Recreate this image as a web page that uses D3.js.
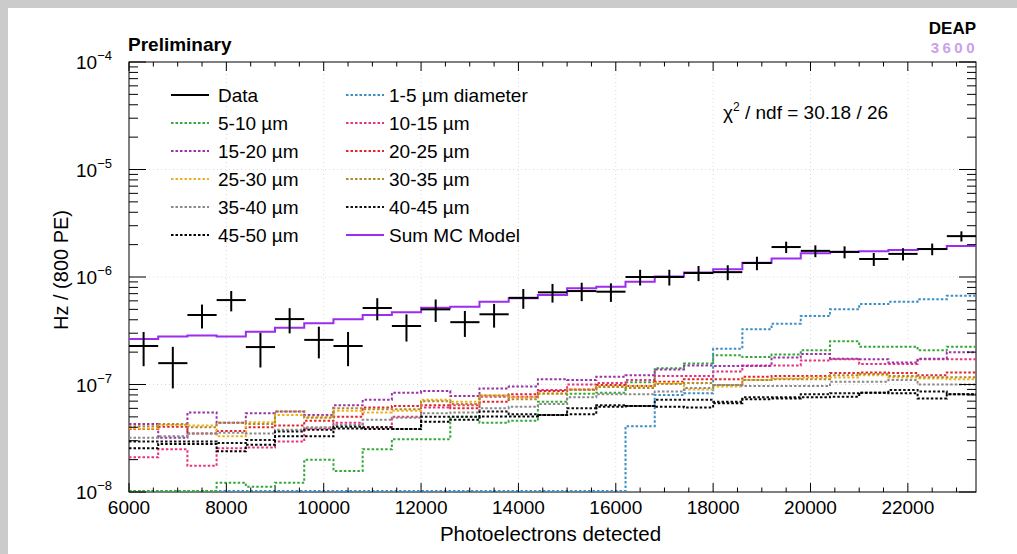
<!DOCTYPE html>
<html><head><meta charset="utf-8">
<script src="https://cdn.jsdelivr.net/npm/d3@7"></script>
<style>
body{margin:0;background:#fff}
svg{display:block}
text{font-family:"Liberation Sans",Arial,Helvetica,sans-serif;fill:#000}
</style>
</head><body>
<svg id="c" width="1017" height="554"></svg>
<script>
// ---------- data ----------
const binLow = [6000,6600,7200,7800,8400,9000,9600,10200,10800,11400,12000,12600,13200,13800,14400,15000,15600,16200,16800,17400,18000,18600,19200,19800,20400,21000,21600,22200,22800];
const xMax = 23400;
const xTickValues = [6000,8000,10000,12000,14000,16000,18000,20000,22000];
const yTickValues = [1e-8,1e-7,1e-6,1e-5,1e-4];
const yTickExponents = ["−8","−7","−6","−5","−4"];

const dataRate = [2.28e-7,1.58e-7,4.43e-7,6.1e-7,2.23e-7,4.06e-7,2.6e-7,2.28e-7,5.15e-7,3.5e-7,5.0e-7,3.8e-7,4.5e-7,6.4e-7,7.2e-7,7.4e-7,7.3e-7,1.0e-6,1.0e-6,1.09e-6,1.11e-6,1.35e-6,1.9e-6,1.75e-6,1.71e-6,1.47e-6,1.64e-6,1.82e-6,2.4e-6];
const dataErr = [8.0e-8,6.6e-8,1.11e-7,1.31e-7,7.9e-8,1.07e-7,8.5e-8,8.0e-8,1.2e-7,9.9e-8,1.18e-7,1.03e-7,1.12e-7,1.34e-7,1.42e-7,1.44e-7,1.43e-7,1.67e-7,1.67e-7,1.75e-7,1.76e-7,1.94e-7,2.31e-7,2.21e-7,2.19e-7,2.03e-7,2.14e-7,2.26e-7,2.59e-7];
const sumMC = [2.65e-7,2.79e-7,2.85e-7,2.79e-7,3.10e-7,3.37e-7,3.71e-7,4.04e-7,4.43e-7,4.70e-7,5.18e-7,5.29e-7,5.89e-7,6.33e-7,6.80e-7,7.85e-7,8.13e-7,9.04e-7,1.01e-6,1.10e-6,1.18e-6,1.36e-6,1.49e-6,1.66e-6,1.72e-6,1.74e-6,1.78e-6,1.82e-6,1.94e-6];

const mc1to5   = [0,0,0,0,0,0,0,0,0,0,0,0,0,0,0,0,0,4.1e-8,8.0e-8,8.3e-8,2.15e-7,3.27e-7,3.68e-7,4.33e-7,5.0e-7,5.6e-7,5.9e-7,6.2e-7,6.7e-7];
const mc5to10  = [0,0,0,1.22e-8,1.12e-8,1.22e-8,2.0e-8,1.57e-8,2.5e-8,3.1e-8,3.1e-8,5.0e-8,4.4e-8,4.6e-8,6.9e-8,8.2e-8,8.4e-8,1.05e-7,1.42e-7,1.57e-7,1.87e-7,1.8e-7,1.9e-7,2.08e-7,2.52e-7,2.25e-7,2.25e-7,2.08e-7,2.25e-7];
const mc10to15 = [2.1e-8,2.5e-8,1.75e-8,2.55e-8,2.6e-8,2.95e-8,3.9e-8,4.4e-8,4.0e-8,5.0e-8,6.1e-8,6.4e-8,7.7e-8,7.7e-8,8.9e-8,1.0e-7,1.03e-7,1.1e-7,1.2e-7,1.2e-7,1.32e-7,1.5e-7,1.5e-7,1.67e-7,1.72e-7,1.55e-7,1.55e-7,1.72e-7,1.72e-7];
const mc15to20 = [4.3e-8,3.2e-8,5.5e-8,4.4e-8,5.4e-8,5.6e-8,5.2e-8,6.4e-8,7.2e-8,8.4e-8,8.7e-8,7.8e-8,9.2e-8,9.6e-8,1.12e-7,1.1e-7,1.18e-7,1.22e-7,1.38e-7,1.5e-7,1.49e-7,1.49e-7,1.78e-7,1.92e-7,1.74e-7,1.72e-7,1.6e-7,1.74e-7,2.0e-7];
const mc20to25 = [3.85e-8,4.05e-8,3.5e-8,3.7e-8,4.0e-8,4.15e-8,4.6e-8,5.0e-8,6.1e-8,6.3e-8,6.4e-8,6.0e-8,6.9e-8,8.1e-8,8.7e-8,9.0e-8,9.9e-8,9.7e-8,1.06e-7,1.12e-7,1.12e-7,1.18e-7,1.2e-7,1.2e-7,1.28e-7,1.29e-7,1.28e-7,1.22e-7,1.29e-7];
const mc25to30 = [3.9e-8,4.2e-8,4.15e-8,3.3e-8,4.45e-8,5.2e-8,5.0e-8,5.7e-8,5.5e-8,5.7e-8,7.2e-8,6.9e-8,7.9e-8,7.6e-8,8.3e-8,9.0e-8,9.7e-8,9.7e-8,1.03e-7,9.0e-8,9.6e-8,1.1e-7,1.14e-7,1.16e-7,1.16e-7,1.22e-7,1.16e-7,1.14e-7,1.12e-7];
const mc30to35 = [4.1e-8,4.3e-8,4.0e-8,4.4e-8,4.3e-8,5.6e-8,4.9e-8,6.0e-8,5.9e-8,5.9e-8,7.0e-8,6.6e-8,7.9e-8,7.3e-8,8.2e-8,8.9e-8,9.5e-8,9.3e-8,1.01e-7,1.03e-7,9.9e-8,1.1e-7,1.12e-7,1.12e-7,1.22e-7,1.25e-7,1.2e-7,1.17e-7,1.17e-7];
const mc35to40 = [3.2e-8,3.3e-8,3.5e-8,3.55e-8,3.5e-8,3.8e-8,4.0e-8,4.2e-8,4.7e-8,4.9e-8,5.4e-8,5.5e-8,6.0e-8,6.2e-8,6.6e-8,7.6e-8,8.1e-8,8.1e-8,8.6e-8,9.3e-8,9.9e-8,9.7e-8,9.7e-8,9.7e-8,1.06e-7,1.06e-7,1.1e-7,1.0e-7,1.0e-7];
const mc40to45 = [2.95e-8,2.95e-8,2.95e-8,2.85e-8,3.05e-8,3.65e-8,3.8e-8,4.05e-8,4.0e-8,3.85e-8,5.0e-8,5.0e-8,5.6e-8,5.3e-8,5.2e-8,6.0e-8,6.4e-8,6.3e-8,7.2e-8,7.2e-8,6.9e-8,7.6e-8,7.6e-8,8.1e-8,8.3e-8,8.4e-8,8.9e-8,8.6e-8,8.1e-8];
const mc45to50 = [2.55e-8,2.8e-8,2.8e-8,2.4e-8,2.75e-8,3.3e-8,3.3e-8,3.9e-8,3.85e-8,3.85e-8,4.5e-8,4.7e-8,5.05e-8,5.05e-8,5.2e-8,5.3e-8,6.2e-8,6.3e-8,6.2e-8,6.1e-8,6.7e-8,7.3e-8,7.4e-8,7.6e-8,7.7e-8,8.4e-8,8.3e-8,7.4e-8,8.1e-8];

const seriesNames = ["1-5 µm diameter","5-10 µm","10-15 µm","15-20 µm","20-25 µm","25-30 µm","30-35 µm","35-40 µm","40-45 µm","45-50 µm"];
const seriesValues = [mc1to5,mc5to10,mc10to15,mc15to20,mc20to25,mc25to30,mc30to35,mc35to40,mc40to45,mc45to50];
const seriesColors = ["#3b8fc6","#35a83a","#e8317f","#9a32a8","#e3262b","#f0b020","#b08a2a","#8a8a8a","#111111","#000000"];
const sumColor = "#9b2cf2";

// ---------- layout ----------
const W = 1017, H = 554;
const L = 129, R = 976, T = 62, B = 492;
const svg = d3.select("#c");

svg.append("rect").attr("x",0).attr("y",0).attr("width",W).attr("height",H).attr("fill","#fff");
svg.append("rect").attr("x",0).attr("y",0).attr("width",W).attr("height",8).attr("fill","#cbcbcb");
svg.append("rect").attr("x",0).attr("y",0).attr("width",8).attr("height",H).attr("fill","#cbcbcb");

const x = d3.scaleLinear().domain([binLow[0], xMax]).range([L, R]);
const y = d3.scaleLog().domain([yTickValues[0], yTickValues[yTickValues.length-1]]).range([B, T]);
const yMin = yTickValues[0];

// grid
const grid = svg.append("g").attr("stroke","#d8d8d8").attr("stroke-width",1).attr("stroke-dasharray","1,3");
xTickValues.slice(1).forEach(v => grid.append("line").attr("x1",x(v)).attr("x2",x(v)).attr("y1",T).attr("y2",B));
yTickValues.slice(1,-1).forEach(v => grid.append("line").attr("x1",L).attr("x2",R).attr("y1",y(v)).attr("y2",y(v)));

// frame
svg.append("rect").attr("x",L).attr("y",T).attr("width",R-L).attr("height",B-T)
  .attr("fill","none").attr("stroke","#000").attr("stroke-width",1);

// clip
svg.append("clipPath").attr("id","clip").append("rect").attr("x",L).attr("y",T).attr("width",R-L).attr("height",B-T+1);
const plot = svg.append("g").attr("clip-path","url(#clip)");

const stepLine = d3.line().curve(d3.curveStepAfter)
  .x(d => x(d[0])).y(d => Math.min(y(Math.max(d[1], yMin)), B-1));
function stepPoints(vals){
  const pts = binLow.map((b,i)=>[b, vals[i]]);
  pts.push([xMax, vals[vals.length-1]]);
  return pts;
}

seriesValues.forEach((vals, k) => {
  plot.append("path").attr("d", stepLine(stepPoints(vals)))
    .attr("fill","none").attr("stroke",seriesColors[k]).attr("stroke-width",2)
    .attr("stroke-dasharray","2.5,2");
});

plot.append("path").attr("d", stepLine(stepPoints(sumMC)))
  .attr("fill","none").attr("stroke",sumColor).attr("stroke-width",2);

// data crosses
const binW = binLow[1]-binLow[0];
const dg = plot.append("g").attr("stroke","#000").attr("stroke-width",2);
binLow.forEach((b,i) => {
  const v = dataRate[i], e = dataErr[i];
  dg.append("line").attr("x1",x(b)).attr("x2",x(b+binW)).attr("y1",y(v)).attr("y2",y(v));
  dg.append("line").attr("x1",x(b+binW/2)).attr("x2",x(b+binW/2)).attr("y1",y(v+e)).attr("y2",y(Math.max(v-e,yMin)));
});

// x ticks (bottom & top)
const ax = svg.append("g").attr("stroke","#000").attr("stroke-width",1);
for (let v = binLow[0]; v <= xMax; v += 500) {
  const major = (v % 2000) === 0;
  const len = major ? 9 : 4.5;
  ax.append("line").attr("x1",x(v)).attr("x2",x(v)).attr("y1",B).attr("y2",B-len);
  ax.append("line").attr("x1",x(v)).attr("x2",x(v)).attr("y1",T).attr("y2",T+len);
}
xTickValues.forEach(v => {
  svg.append("text").attr("x",x(v)).attr("y",B+22).attr("text-anchor","middle")
    .attr("font-size",19).text(v);
});

// y ticks (left & right)
for (let d = 0; d < yTickValues.length; d++) {
  const base = yTickValues[d];
  for (let m = 1; m <= 9; m++) {
    const v = base*m;
    if (v > yTickValues[yTickValues.length-1]*1.0001) break;
    const len = m === 1 ? 17 : 9;
    ax.append("line").attr("x1",L).attr("x2",L+len).attr("y1",y(v)).attr("y2",y(v));
    ax.append("line").attr("x1",R).attr("x2",R-len).attr("y1",y(v)).attr("y2",y(v));
  }
}
yTickValues.forEach((v,i) => {
  const t = svg.append("text").attr("x",112).attr("y",y(v)+7).attr("text-anchor","end").attr("font-size",19);
  t.append("tspan").text("10");
  t.append("tspan").attr("dy",-9).attr("font-size",13).text(yTickExponents[i]);
});

// axis titles
svg.append("text").attr("x",(L+R)/2 - 2).attr("y",541).attr("text-anchor","middle").attr("font-size",20.5)
  .text("Photoelectrons detected");
svg.append("text").attr("transform","translate(68,270) rotate(-90)").attr("text-anchor","middle").attr("font-size",20)
  .text("Hz / (800 PE)");

// header
svg.append("text").attr("x",128).attr("y",51).attr("font-size",19).attr("font-weight","bold").text("Preliminary");
svg.append("text").attr("x",976).attr("y",34).attr("text-anchor","end").attr("font-size",17).attr("font-weight","bold").text("DEAP");
svg.append("text").attr("x",978).attr("y",53).attr("text-anchor","end").attr("font-size",15).attr("font-weight","bold")
  .attr("letter-spacing",3.5).style("fill","#c8a2e8").text("3600");

// chi2
const chi = svg.append("text").attr("x",723).attr("y",119).attr("font-size",19);
chi.append("tspan").text("χ");
chi.append("tspan").attr("dy",-8).attr("font-size",12).text("2");
chi.append("tspan").attr("dy",8).text(" / ndf =  30.18 / 26");

// legend
const entries = [{name:"Data",color:"#000",dash:null}]
  .concat(seriesNames.map((n,k)=>({name:n,color:seriesColors[k],dash:"2.5,2"})))
  .concat([{name:"Sum MC Model",color:sumColor,dash:null}]);
const colX = [[171,209,218],[346,384,389]];
entries.forEach((e,i) => {
  const col = i % 2, row = Math.floor(i/2);
  const yy = 95 + row*28;
  const ln = svg.append("line").attr("x1",colX[col][0]).attr("x2",colX[col][1]).attr("y1",yy).attr("y2",yy)
    .attr("stroke",e.color).attr("stroke-width",2);
  if (e.dash) ln.attr("stroke-dasharray",e.dash);
  svg.append("text").attr("x",colX[col][2]).attr("y",yy+7).attr("font-size",19).text(e.name);
});
</script>
</body></html>
